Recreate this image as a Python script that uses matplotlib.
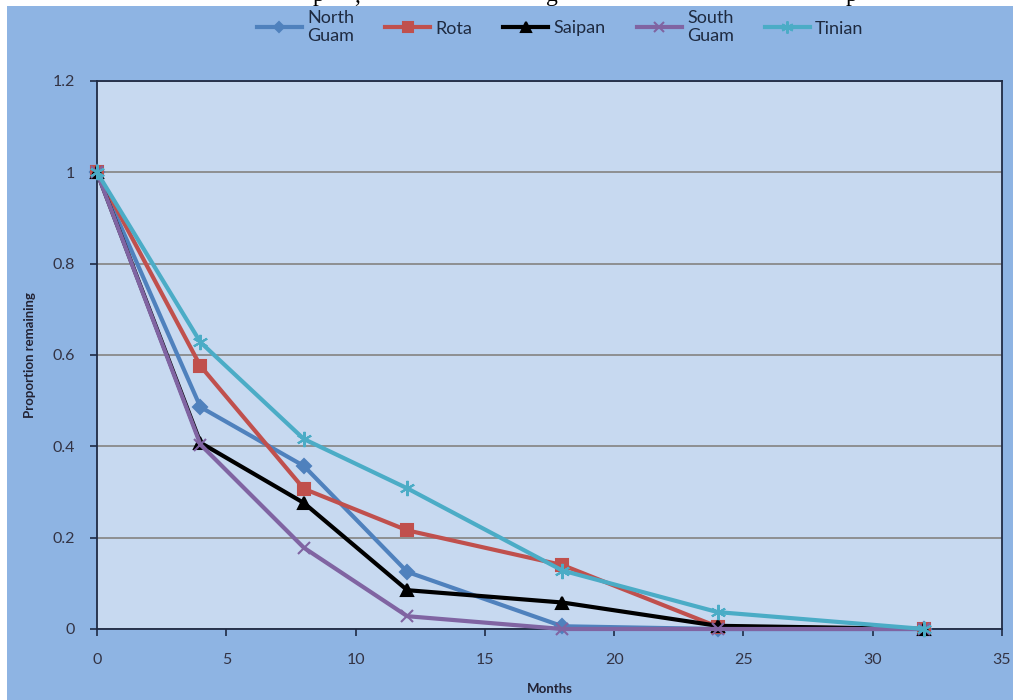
import matplotlib.pyplot as plt
from matplotlib.patches import Rectangle

plt.rcParams['font.family'] = ['Lato', 'DejaVu Sans']

# ---------------- data ----------------
months = [0, 4, 8, 12, 18, 24, 32]

north_guam = [1.0, 0.486, 0.357, 0.125, 0.006, 0.0, 0.0]
rota = [1.0, 0.576, 0.307, 0.216, 0.140, 0.005, 0.0]
saipan = [1.0, 0.408, 0.276, 0.085, 0.058, 0.007, 0.0]
south_guam = [1.0, 0.404, 0.178, 0.028, 0.0, 0.0, 0.0]
tinian = [1.0, 0.628, 0.416, 0.308, 0.128, 0.037, 0.0]

series_names = ['North\nGuam', 'Rota', 'Saipan', 'South\nGuam', 'Tinian']
series_values = [north_guam, rota, saipan, south_guam, tinian]
series_colors = ['#4F81BD', '#C0504D', '#000000', '#8064A2', '#4BACC6']
series_markers = ['D', 's', '^', 'x', (6, 2, 0)]
series_msize = [7, 9, 9, 9, 11]

y_ticks = [0, 0.2, 0.4, 0.6, 0.8, 1.0, 1.2]
y_labels = ['0', '0.2', '0.4', '0.6', '0.8', '1', '1.2']
x_ticks = [0, 5, 10, 15, 20, 25, 30, 35]

# bits of the cropped caption line above the chart
caption_bits = ['p', ',', 'g', 'p']
caption_x = [318, 357, 552, 851]

# ---------------- figure ----------------
W, H = 1013, 700
fig = plt.figure(figsize=(W / 100, H / 100), dpi=100, facecolor='white')

for ch, xp in zip(caption_bits, caption_x):
    fig.text(xp / W, 1 - 1.5 / H, ch, family=['Liberation Serif', 'DejaVu Serif'],
             fontsize=17, ha='center', va='baseline', color='black', zorder=0)

fig.patches.append(Rectangle((7 / W, 0), 1 - 7 / W, 1 - 6 / H, transform=fig.transFigure,
                             facecolor='#8EB4E3', edgecolor='none', zorder=1))

ax = fig.add_axes([97 / W, 1 - 629 / H, (1002 - 97) / W, (629 - 81) / H], zorder=2)
ax.set_facecolor('#C7D9F0')

for vals, name, col, mk, ms in zip(series_values, series_names, series_colors,
                                   series_markers, series_msize):
    ax.plot(months, vals, color=col, lw=3, marker=mk, ms=ms, mec=col, mfc=col,
            mew=1.5, label=name, clip_on=False, zorder=3)

ax.set_xlim(0, 35)
ax.set_ylim(0, 1.2)
ax.set_xticks(x_ticks)
ax.set_yticks(y_ticks)
ax.set_yticklabels(y_labels)
ax.yaxis.grid(True, color='#8A8A8A', lw=1.3)
ax.set_axisbelow(True)

for sp in ax.spines.values():
    sp.set_color('#1F2A44')
    sp.set_linewidth(1.3)

ax.tick_params(axis='both', direction='out', length=5, width=1.2, color='#1F2A44',
               labelsize=11.5, labelcolor='#333344')
ax.tick_params(axis='y', pad=11)
ax.tick_params(axis='x', pad=12)

ax.set_xlabel('Months', fontsize=9.5, fontweight='bold', color='#222233', labelpad=12)
ax.set_ylabel('Proportion remaining', fontsize=9.5, fontweight='bold', color='#222233',
              labelpad=12)

leg = fig.legend(loc='center', bbox_to_anchor=(0.553, 1 - 27 / H), ncol=5, frameon=False,
                 prop={'size': 13}, handlelength=2.5, handletextpad=0.3,
                 columnspacing=1.7, labelcolor='#1E2A40', markerscale=0.8)
for t in leg.get_texts():
    t.set_linespacing(1.2)
    t.set_multialignment('left')
leg.set_zorder(3)

fig.savefig('out.png', dpi=100, facecolor=fig.get_facecolor())
